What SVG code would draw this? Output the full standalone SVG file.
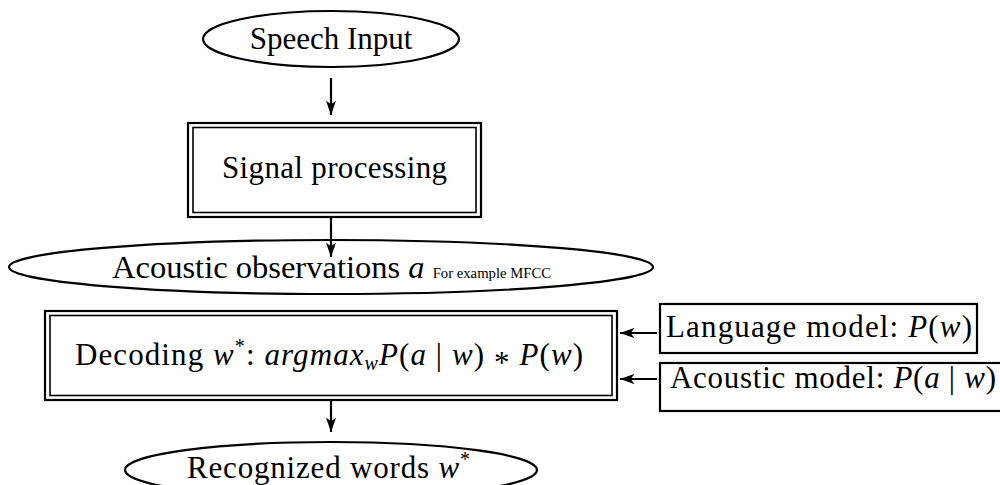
<svg xmlns="http://www.w3.org/2000/svg" width="1000" height="485" viewBox="0 0 1000 485">
  <style>
    .shape { fill: #fff; stroke: #000; stroke-width: 2.2; }
    .inner { fill: none; stroke: #000; stroke-width: 1.6; }
    .label { font-family: "Liberation Serif", "Times New Roman", serif; font-size: 31px; fill: #000; }
    .mid { text-anchor: middle; }
    .math { font-style: italic; }
    .small { font-size: 14px; }
    .edge { stroke: #000; stroke-width: 2.2; fill: none; marker-end: url(#arrow); }
  </style>
  <defs>
    <marker id="arrow" viewBox="0 0 10 10" refX="10" refY="5" markerWidth="6.5" markerHeight="6.5" orient="auto" markerUnits="strokeWidth">
      <path d="M0,1.5 L10,5 L0,8.5 L2.5,5 Z" fill="#000"/>
    </marker>
  </defs>

  <rect width="1000" height="485" fill="#fff"/>

  <g id="speech-input">
    <ellipse class="shape" cx="331" cy="39" rx="128" ry="28"/>
    <text class="label mid" x="331" y="49">Speech Input</text>
  </g>

  <g id="signal-processing">
    <rect class="shape" x="188" y="123" width="293" height="94"/>
    <rect class="inner" x="193" y="127.5" width="283" height="85"/>
    <text class="label" x="222" y="178" textLength="225" lengthAdjust="spacing">Signal processing</text>
  </g>

  <g id="acoustic-observations">
    <ellipse class="shape" cx="331" cy="267" rx="322" ry="27"/>
    <text class="label" x="112" y="278" textLength="439" lengthAdjust="spacingAndGlyphs">Acoustic observations <tspan class="math">a</tspan> <tspan class="small">For example MFCC</tspan></text>
  </g>

  <g id="decoding">
    <rect class="shape" x="45" y="311" width="572" height="89"/>
    <rect class="inner" x="50" y="315.5" width="562" height="80"/>
    <text class="label" x="75" y="365" textLength="508" lengthAdjust="spacing">Decoding <tspan class="math">w</tspan><tspan dy="-12" font-size="20px">*</tspan><tspan dy="12">: </tspan><tspan class="math">argmax</tspan><tspan class="math" dy="5" font-size="20px">w</tspan><tspan class="math" dy="-5">P</tspan>(<tspan class="math">a</tspan> | <tspan class="math">w</tspan>) <tspan dy="8">*</tspan><tspan dy="-8"> </tspan><tspan class="math">P</tspan>(<tspan class="math">w</tspan>)</text>
  </g>

  <g id="language-model">
    <rect class="shape" x="660" y="304" width="317" height="49"/>
    <text class="label" x="666" y="337" textLength="306" lengthAdjust="spacing">Language model: <tspan class="math">P</tspan>(<tspan class="math">w</tspan>)</text>
  </g>

  <g id="acoustic-model">
    <rect class="shape" x="660" y="363" width="360" height="48"/>
    <text class="label" x="670" y="388" textLength="326" lengthAdjust="spacing">Acoustic model: <tspan class="math">P</tspan>(<tspan class="math">a</tspan> | <tspan class="math">w</tspan>)</text>
  </g>

  <g id="recognized-words">
    <ellipse class="shape" cx="331" cy="470" rx="206" ry="28"/>
    <text class="label" x="187" y="478" textLength="283" lengthAdjust="spacing">Recognized words <tspan class="math">w</tspan><tspan dy="-12" font-size="20px">*</tspan></text>
  </g>

  <g id="connectors">
    <line class="edge" x1="331" y1="78" x2="331" y2="115"/>
    <line class="edge" x1="331" y1="217" x2="331" y2="257"/>
    <line class="edge" x1="657" y1="333" x2="620" y2="333"/>
    <line class="edge" x1="657" y1="379" x2="620" y2="379"/>
    <line class="edge" x1="331" y1="400" x2="331" y2="432"/>
  </g>
</svg>
